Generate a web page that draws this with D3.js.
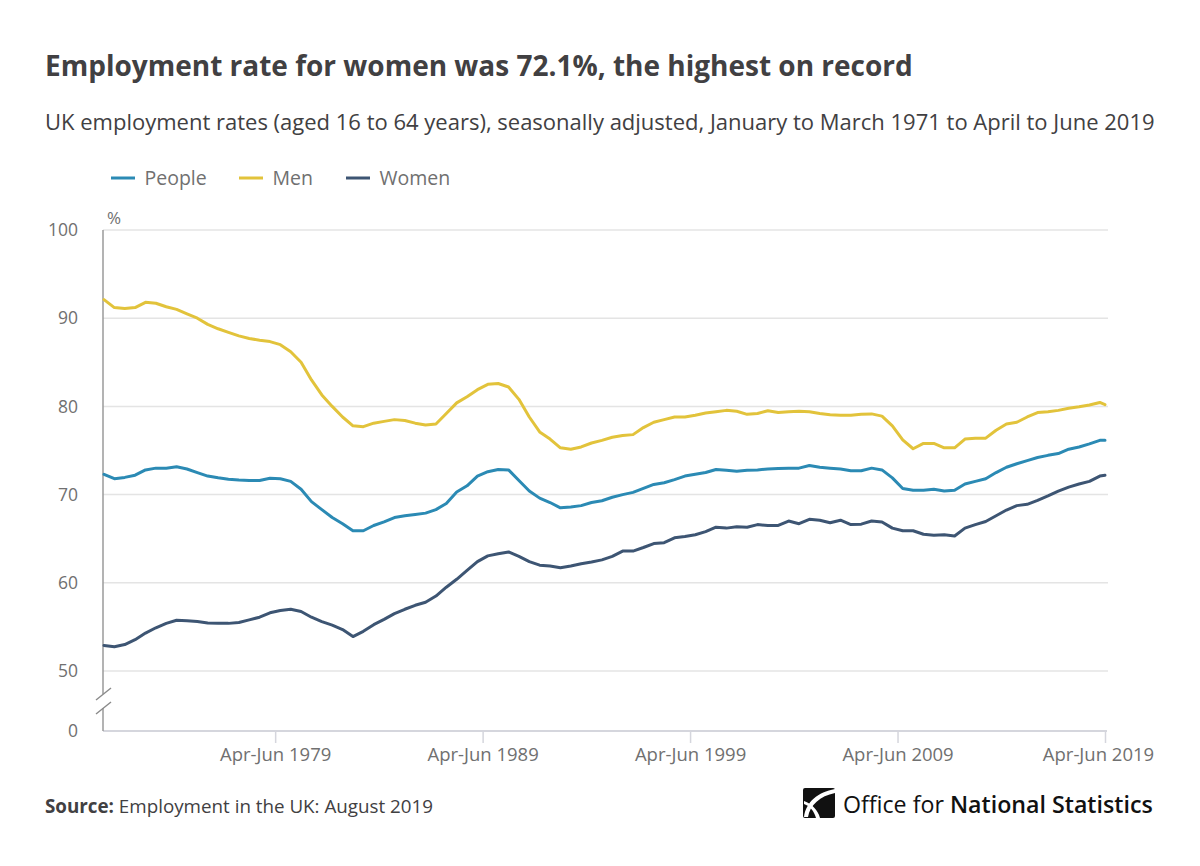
<!DOCTYPE html>
<html><head><meta charset="utf-8">
<script src="https://cdn.jsdelivr.net/npm/d3@7"></script>
<style>
body{margin:0;background:#fff;}
svg{display:block;font-family:"Open Sans",sans-serif;}
</style>
</head><body>
<svg id="chart" width="1200" height="866"></svg>
<script>
// ---------- DATA ----------
// Half-yearly readings (Jan-Mar and Jul-Sep of each year), plus the final period Apr-Jun 2019
const periods = [];
for (let yr = 1971; yr <= 2018; yr++) { periods.push("Jan-Mar " + yr); periods.push("Jul-Sep " + yr); }
periods.push("Jan-Mar 2019");
periods.push("Apr-Jun 2019");

const people = [
72.3, 71.8, 71.95, 72.2, 72.8, 73.0, 73.0, 73.15, 72.9, 72.5,
72.1, 71.9, 71.75, 71.65, 71.6, 71.6, 71.85, 71.8, 71.5, 70.6,
69.2, 68.3, 67.4, 66.7, 65.9, 65.9, 66.5, 66.9, 67.4, 67.6,
67.75, 67.9, 68.3, 69.0, 70.3, 71.0, 72.1, 72.6, 72.85, 72.8,
71.6, 70.4, 69.6, 69.1, 68.5, 68.6, 68.75, 69.1, 69.3, 69.7,
70.0, 70.25, 70.7, 71.15, 71.35, 71.7, 72.1, 72.3, 72.5, 72.85,
72.75, 72.65, 72.75, 72.8, 72.9, 72.95, 73.0, 73.0, 73.3, 73.1,
73.0, 72.9, 72.7, 72.7, 73.0, 72.8, 71.9, 70.7, 70.5, 70.5,
70.6, 70.4, 70.5, 71.2, 71.5, 71.8, 72.5, 73.1, 73.5, 73.85,
74.2, 74.45, 74.65, 75.15, 75.4, 75.75, 76.15, 76.15
];
const men = [
92.1, 91.2, 91.1, 91.2, 91.8, 91.7, 91.3, 91.0, 90.5, 90.0,
89.3, 88.8, 88.4, 88.0, 87.7, 87.5, 87.35, 87.0, 86.2, 85.0,
83.0, 81.3, 80.0, 78.8, 77.8, 77.7, 78.1, 78.3, 78.5, 78.4,
78.1, 77.9, 78.0, 79.2, 80.4, 81.1, 81.9, 82.5, 82.6, 82.2,
80.8, 78.8, 77.1, 76.3, 75.3, 75.15, 75.4, 75.85, 76.15, 76.5,
76.7, 76.8, 77.6, 78.2, 78.5, 78.8, 78.8, 79.0, 79.25, 79.4,
79.55, 79.45, 79.1, 79.2, 79.5, 79.3, 79.4, 79.45, 79.4, 79.2,
79.05, 79.0, 79.0, 79.1, 79.15, 78.9, 77.8, 76.2, 75.2, 75.8,
75.8, 75.3, 75.3, 76.3, 76.4, 76.4, 77.3, 78.0, 78.2, 78.8,
79.3, 79.4, 79.55, 79.8, 79.95, 80.15, 80.45, 80.2
];
const women = [
52.9, 52.75, 53.0, 53.55, 54.3, 54.9, 55.4, 55.75, 55.7, 55.6,
55.45, 55.4, 55.4, 55.5, 55.8, 56.1, 56.6, 56.85, 57.0, 56.75,
56.1, 55.6, 55.2, 54.7, 53.9, 54.5, 55.25, 55.85, 56.5, 57.0,
57.45, 57.8, 58.5, 59.5, 60.4, 61.4, 62.4, 63.05, 63.3, 63.5,
63.0, 62.4, 62.0, 61.9, 61.7, 61.9, 62.15, 62.35, 62.6, 63.0,
63.6, 63.6, 64.0, 64.45, 64.55, 65.1, 65.25, 65.45, 65.8, 66.3,
66.2, 66.35, 66.3, 66.6, 66.5, 66.5, 67.0, 66.7, 67.2, 67.1,
66.8, 67.1, 66.6, 66.65, 67.0, 66.9, 66.2, 65.9, 65.9, 65.5,
65.4, 65.45, 65.3, 66.2, 66.6, 66.95, 67.6, 68.25, 68.75, 68.9,
69.35, 69.85, 70.4, 70.85, 71.2, 71.5, 72.1, 72.2
];
const seriesNames = ["People", "Men", "Women"];
const yTicks = [0, 50, 60, 70, 80, 90, 100];
const xTickLabels = ["Apr-Jun 1979", "Apr-Jun 1989", "Apr-Jun 1999", "Apr-Jun 2009", "Apr-Jun 2019"];

(function () {
// ---------- STYLE ----------
const colors = { People: "#2b8ab4", Men: "#e2c33b", Women: "#3d5573" };
const monthIdx = {Jan:0,Feb:1,Mar:2,Apr:3,May:4,Jun:5,Jul:6,Aug:7,Sep:8,Oct:9,Nov:10,Dec:11};
const periodIndex = p => (+p.slice(-4) - 1971) * 12 + monthIdx[p.slice(0,3)];

const svg = d3.select("#chart");
const left = 103, right = 1108, plotTop = 230, base = 731;

const x = d3.scaleLinear().domain([0, periodIndex(periods[periods.length-1])]).range([104, 1105]);
const y = d3.scaleLinear().domain([0, 50, 100]).range([base, 671, plotTop]);

// Title etc.
svg.append("text").attr("x", 45).attr("y", 76).attr("font-size", 28).attr("font-weight", 700)
  .attr("fill", "#414042").text("Employment rate for women was 72.1%, the highest on record");
svg.append("text").attr("x", 45).attr("y", 130).attr("font-size", 22).attr("fill", "#414042")
  .text("UK employment rates (aged 16 to 64 years), seasonally adjusted, January to March 1971 to April to June 2019");

// Legend
const legendX = [111, 239, 346];
seriesNames.forEach((s, i) => {
  const g = svg.append("g").attr("transform", `translate(${legendX[i]},178)`);
  g.append("line").attr("x1", 0).attr("x2", 24).attr("stroke", colors[s]).attr("stroke-width", 3);
  g.append("text").attr("x", 33.5).attr("dy", "0.35em").attr("font-size", 19.5).attr("fill", "#707070").text(s);
});

// Gridlines
svg.append("g").selectAll("line").data(yTicks.filter(d => d > 0)).join("line")
  .attr("x1", left).attr("x2", right).attr("y1", d => y(d)).attr("y2", d => y(d))
  .attr("stroke", "#e4e4e4").attr("stroke-width", 1.5);

// Y axis labels
const yAxis = d3.axisLeft(y).tickValues(yTicks).tickSize(0).tickPadding(25);
const gy = svg.append("g").attr("transform", `translate(${left},0)`).call(yAxis);
gy.select(".domain").remove();
gy.selectAll("text").attr("font-size", 17.5).attr("fill", "#707070").attr("font-family", "Open Sans, sans-serif");

svg.append("text").attr("x", 107).attr("y", 224).attr("font-size", 17).attr("fill", "#707070").text("%");

// X axis
const xTickPos = xTickLabels.map(periodIndex);
const xAxis = d3.axisBottom(x).tickValues(xTickPos).tickFormat((d, i) => xTickLabels[i]).tickSize(12).tickSizeOuter(0).tickPadding(5);
const gx = svg.append("g").attr("transform", `translate(0,${base})`).call(xAxis);
gx.select(".domain").attr("d", `M${left},0H${right-1}`).attr("stroke", "#d5d6dd").attr("stroke-width", 2);
gx.selectAll(".tick line").attr("stroke", "#d5d6dd").attr("stroke-width", 1.5);
gx.selectAll("text").attr("font-size", 18.5).attr("fill", "#707070").attr("font-family", "Open Sans, sans-serif");
gx.selectAll(".tick").filter((d, i, n) => i === n.length - 1).select("text").attr("dx", -7);

// Y axis line with break
svg.append("line").attr("x1", left).attr("x2", left).attr("y1", plotTop).attr("y2", 694).attr("stroke", "#9a9a9a").attr("stroke-width", 1.5);
svg.append("line").attr("x1", left).attr("x2", left).attr("y1", 708).attr("y2", base).attr("stroke", "#9a9a9a").attr("stroke-width", 1.5);
[[96,700,111,688],[96,714,111,702]].forEach(c => {
  svg.append("line").attr("x1", c[0]).attr("y1", c[1]).attr("x2", c[2]).attr("y2", c[3]).attr("stroke", "#8a8a8a").attr("stroke-width", 1.5);
});

// Lines
const series = { People: people, Men: men, Women: women };
const line = d3.line().x((d, i) => x(periodIndex(periods[i]))).y(d => y(d));
["Men", "People", "Women"].forEach(s => {
  svg.append("path").datum(series[s]).attr("d", line).attr("fill", "none")
    .attr("stroke", colors[s]).attr("stroke-width", 3).attr("stroke-linejoin", "round").attr("stroke-linecap", "round");
});

// Source
const src = svg.append("text").attr("x", 45).attr("y", 813).attr("font-size", 18.8).attr("fill", "#414042");
src.append("tspan").attr("font-weight", 700).text("Source:");
src.append("tspan").text(" Employment in the UK: August 2019");

// Logo
const lg = svg.append("g");
lg.append("rect").attr("x", 803).attr("y", 788).attr("width", 32).attr("height", 30).attr("rx", 2).attr("fill", "#111");
lg.append("path").attr("d", "M835,789 C818,792 806,802 804,817 L808,817 C810,805 820,796 835,793 Z").attr("fill", "#fff");
lg.append("path").attr("d", "M804,801 C812,804 818,810 820,818 L816,818 C814,811 810,806 804,804 Z").attr("fill", "#fff");
const lt = lg.append("text").attr("x", 843).attr("y", 813).attr("font-size", 23.2).attr("fill", "#111");
lt.append("tspan").text("Office for ");
lt.append("tspan").attr("font-weight", 600).text("National Statistics");
})();
</script>
</body></html>
